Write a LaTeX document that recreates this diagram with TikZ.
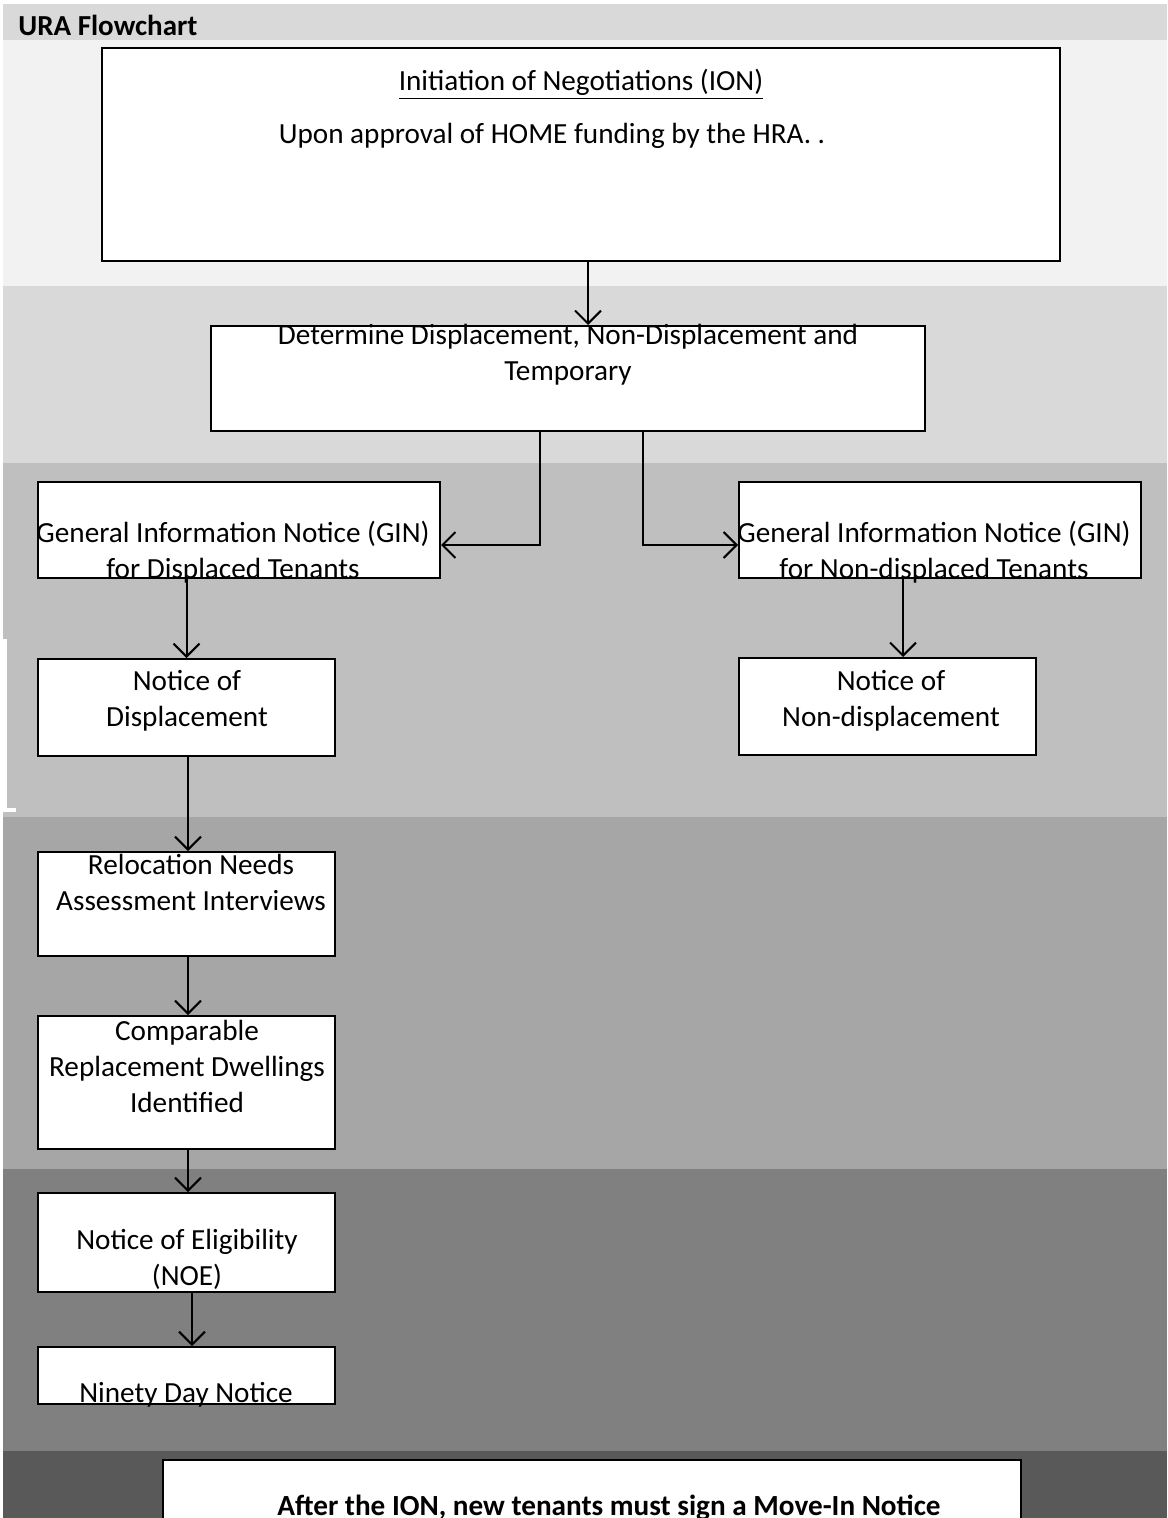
\documentclass[tikz,border=0pt]{standalone}
\usepackage{fontspec}
\setmainfont{Carlito}
\usetikzlibrary{arrows.meta, positioning, fit, calc}
\definecolor{uraband0}{RGB}{217,217,217}
\definecolor{uraband1}{RGB}{242,242,242}
\definecolor{uraband2}{RGB}{217,217,217}
\definecolor{uraband3}{RGB}{191,191,191}
\definecolor{uraband4}{RGB}{166,166,166}
\definecolor{uraband5}{RGB}{128,128,128}
\definecolor{uraband6}{RGB}{89,89,89}
\tikzset{
  stepbox/.style={rectangle, draw=black, fill=white, line width=1pt, inner sep=0pt},
  steptext/.style={align=center, inner sep=0pt, yshift=-1.5pt, font=\fontsize{14.6}{18}\selectfont},
  arrow/.style={-{Straight Barb[length=6.5pt, width=13pt]}, line width=1pt, color=black},
}

\begin{document}
\begin{tikzpicture}[x=0.5pt, y=-0.5pt]
  \clip (0,0) rectangle (1167,1518);
  \fill[white] (0,0) rectangle (1167,1518);
  % shaded bands
  \fill[uraband0] (3,4) rectangle (1167,40);
  \fill[uraband1] (3,40) rectangle (1167,286);
  \fill[uraband2] (3,286) rectangle (1167,463);
  \fill[uraband3] (3,463) rectangle (1167,817);
  \fill[uraband4] (3,817) rectangle (1167,1169);
  \fill[uraband5] (3,1169) rectangle (1167,1451);
  \fill[uraband6] (3,1451) rectangle (1167,1518);
  \fill[white] (3,639) rectangle (7,812);
  \fill[white] (3,808) rectangle (16,812);

  \node[anchor=west, inner sep=0pt, yshift=-1pt, font=\fontsize{14.5}{17}\selectfont\bfseries] (title) at (18,23) {URA Flowchart};

  % boxes
  \node[stepbox, fit={(102,48) (1060,261)}] (ion) {};
  \node[stepbox, fit={(211,326) (925,431)}] (det) {};
  \node[stepbox, fit={(38,482) (440,578)}] (ginL) {};
  \node[stepbox, fit={(739,482) (1141,578)}] (ginR) {};
  \node[stepbox, fit={(38,659) (335,756)}] (nod) {};
  \node[stepbox, fit={(739,658) (1036,755)}] (nond) {};
  \node[stepbox, fit={(38,852) (335,956)}] (reloc) {};
  \node[stepbox, fit={(38,1016) (335,1149)}] (comp) {};
  \node[stepbox, fit={(38,1193) (335,1292)}] (noe) {};
  \node[stepbox, fit={(38,1347) (335,1404)}] (ninety) {};
  \node[stepbox, fit={(163,1460) (1021,1540)}] (movein) {};

  % texts
  \node[steptext] (ion-t) at (581,81) {\underline{Initiation of Negotiations (ION)}};
  \node[steptext] (ion-n) at (552,133) {Upon approval of HOME funding by the HRA. .};
  \node[steptext] (det-t) at (568,352) {Determine Displacement, Non-Displacement and\\Temporary};
  \node[steptext] (ginL-t) at (233,549) {General Information Notice (GIN)\\for Displaced Tenants};
  \node[steptext] (ginR-t) at (934,549) {General Information Notice (GIN)\\for Non-displaced Tenants};
  \node[steptext] (nod-t) at (187,698) {Notice of\\Displacement};
  \node[steptext] (nond-t) at (891,698) {Notice of\\Non-displacement};
  \node[steptext] (reloc-t) at (191,879) {Relocation Needs\\Assessment Interviews};
  \node[steptext] (comp-t) at (187,1063) {Comparable\\Replacement Dwellings\\Identified};
  \node[steptext] (noe-t) at (187,1256) {Notice of Eligibility\\(NOE)};
  \node[steptext] (ninety-t) at (186,1392) {Ninety Day Notice};
  \node[steptext, font=\fontsize{14.6}{18}\selectfont\bfseries] (movein-t) at (609,1505) {After the ION, new tenants must sign a Move-In Notice};

  % connectors
  \draw[arrow] ([xshift=3.5pt]ion.south) -- ([xshift=3.5pt]ion.south |- det.north);
  \draw[arrow] ([xshift=-14pt]det.south) |- ([yshift=-7.5pt]ginL.east);
  \draw[arrow] ([xshift=37.5pt]det.south) |- ([yshift=-7.5pt]ginR.west);
  \draw[arrow] (ginL.south -| nod.north) -- (nod.north);
  \draw[arrow] ([xshift=7.75pt]nond.north |- ginR.south) -- ([xshift=7.75pt]nond.north);
  \draw[arrow] ([xshift=0.75pt]nod.south) -- ([xshift=0.75pt]reloc.north);
  \draw[arrow] ([xshift=0.75pt]reloc.south) -- ([xshift=0.75pt]comp.north);
  \draw[arrow] ([xshift=0.75pt]comp.south) -- ([xshift=0.75pt]noe.north);
  \draw[arrow] ([xshift=2.75pt]noe.south) -- ([xshift=2.75pt]ninety.north);
\end{tikzpicture}
\end{document}
